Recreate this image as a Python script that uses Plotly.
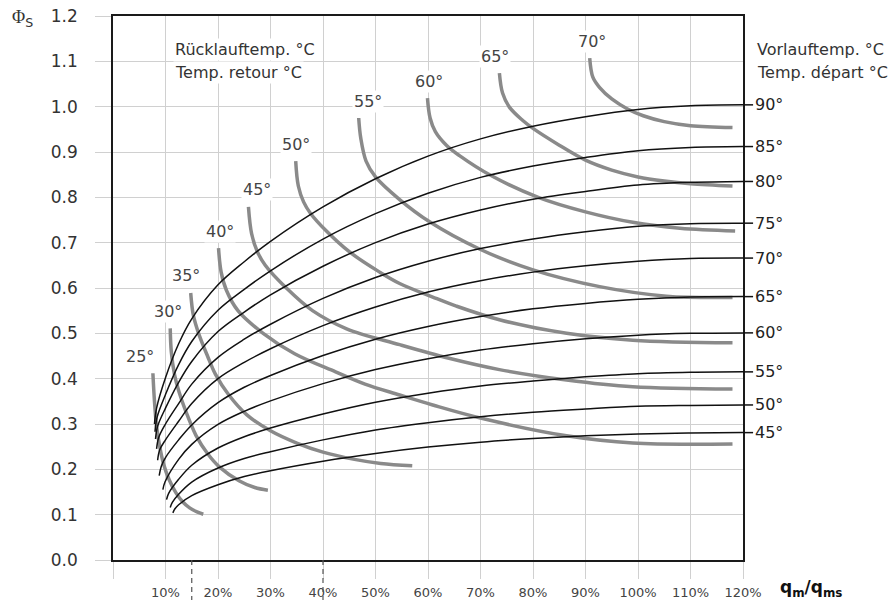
import plotly.graph_objects as go

# x = q_m/q_ms in %, y = Phi_s

# Vorlauftemperatur (black curves)
VL90_X = [7.9, 8.3, 10, 12.5, 15, 20, 25, 30, 40, 50, 60, 70, 80, 90, 100, 110, 120]
VL90_PHI = [0.30, 0.335, 0.402, 0.477, 0.532, 0.607, 0.658, 0.703, 0.779, 0.841, 0.891, 0.929, 0.957, 0.978, 0.994, 1.002, 1.004]
VL85_X = [8.0, 8.4, 10, 12.5, 15, 20, 25, 30, 40, 50, 60, 70, 80, 90, 100, 110, 120]
VL85_PHI = [0.283, 0.315, 0.365, 0.431, 0.482, 0.551, 0.597, 0.638, 0.708, 0.764, 0.809, 0.844, 0.869, 0.888, 0.903, 0.910, 0.912]
VL80_X = [8.1, 8.5, 10, 12.5, 15, 20, 25, 30, 40, 50, 60, 70, 80, 90, 100, 110, 120]
VL80_PHI = [0.267, 0.295, 0.335, 0.392, 0.438, 0.504, 0.547, 0.585, 0.648, 0.700, 0.741, 0.772, 0.796, 0.813, 0.827, 0.833, 0.835]
VL75_X = [8.3, 8.7, 10, 12.5, 15, 20, 25, 30, 40, 50, 60, 70, 80, 90, 100, 110, 120]
VL75_PHI = [0.245, 0.27, 0.30, 0.345, 0.388, 0.447, 0.487, 0.52, 0.577, 0.623, 0.659, 0.687, 0.708, 0.724, 0.736, 0.742, 0.743]
VL70_X = [8.5, 8.9, 10, 12.5, 15, 20, 25, 30, 40, 50, 60, 70, 80, 90, 100, 110, 120]
VL70_PHI = [0.22, 0.243, 0.265, 0.306, 0.345, 0.40, 0.436, 0.466, 0.517, 0.558, 0.591, 0.616, 0.635, 0.649, 0.659, 0.665, 0.666]
VL65_X = [8.8, 9.2, 10, 12.5, 15, 20, 25, 30, 40, 50, 60, 70, 80, 90, 100, 110, 120]
VL65_PHI = [0.186, 0.207, 0.226, 0.265, 0.298, 0.347, 0.381, 0.407, 0.451, 0.487, 0.515, 0.537, 0.554, 0.566, 0.575, 0.580, 0.581]
VL60_X = [9.5, 9.9, 12.5, 15, 20, 25, 30, 40, 50, 60, 70, 80, 90, 100, 110, 120]
VL60_PHI = [0.155, 0.172, 0.222, 0.255, 0.299, 0.328, 0.351, 0.389, 0.420, 0.444, 0.463, 0.477, 0.488, 0.496, 0.500, 0.501]
VL55_X = [10.2, 10.6, 12.5, 15, 20, 25, 30, 40, 50, 60, 70, 80, 90, 100, 110, 120]
VL55_PHI = [0.133, 0.147, 0.178, 0.209, 0.247, 0.272, 0.291, 0.322, 0.348, 0.368, 0.384, 0.395, 0.404, 0.411, 0.414, 0.415]
VL50_X = [10.9, 11.3, 12.5, 15, 20, 25, 30, 40, 50, 60, 70, 80, 90, 100, 110, 120]
VL50_PHI = [0.116, 0.127, 0.145, 0.172, 0.203, 0.224, 0.239, 0.265, 0.287, 0.303, 0.316, 0.326, 0.333, 0.339, 0.341, 0.342]
VL45_X = [11.4, 11.8, 12.5, 15, 20, 25, 30, 40, 50, 60, 70, 80, 90, 100, 110, 120]
VL45_PHI = [0.104, 0.113, 0.122, 0.142, 0.166, 0.184, 0.197, 0.218, 0.235, 0.249, 0.26, 0.268, 0.274, 0.278, 0.280, 0.281]

# Ruecklauftemperatur (grey curves)
RL25_X = [7.6, 7.9, 8.3, 8.9, 9.6, 10.7, 12.0, 13.3, 14.6, 16.0, 17.2]
RL25_PHI = [0.412, 0.35, 0.295, 0.25, 0.213, 0.177, 0.148, 0.128, 0.115, 0.106, 0.101]
RL30_X = [10.9, 11.1, 11.7, 12.6, 13.8, 15.8, 18.0, 20.3, 24.0, 27.0, 29.5]
RL30_PHI = [0.511, 0.46, 0.41, 0.37, 0.33, 0.275, 0.235, 0.205, 0.175, 0.16, 0.154]
RL35_X = [14.8, 15.3, 16.3, 18.0, 19.5, 22.0, 25.5, 30.0, 35.0, 40.0, 46.0, 51.0, 57.0]
RL35_PHI = [0.589, 0.54, 0.50, 0.45, 0.41, 0.365, 0.32, 0.285, 0.258, 0.238, 0.222, 0.213, 0.208]
RL40_X = [20.1, 20.6, 21.6, 23.8, 28.6, 34.6, 42.4, 48.0, 54.6, 60.9, 70.4, 86.4, 99.0, 118.0]
RL40_PHI = [0.688, 0.635, 0.595, 0.55, 0.50, 0.455, 0.415, 0.388, 0.364, 0.342, 0.312, 0.274, 0.258, 0.256]
RL45_X = [25.8, 26.4, 27.5, 29.0, 33.0, 38.0, 44.5, 54.6, 64.0, 73.6, 86.4, 99.0, 118.0]
RL45_PHI = [0.779, 0.72, 0.68, 0.65, 0.60, 0.55, 0.51, 0.475, 0.445, 0.42, 0.397, 0.382, 0.377]
RL50_X = [34.8, 35.3, 36.3, 37.6, 40.7, 45.0, 50.8, 54.6, 60.9, 65.4, 73.6, 86.4, 99.0, 118.0]
RL50_PHI = [0.88, 0.825, 0.79, 0.765, 0.725, 0.68, 0.635, 0.61, 0.58, 0.56, 0.53, 0.50, 0.485, 0.479]
RL55_X = [46.8, 47.2, 48.2, 50.0, 54.6, 60.3, 69.8, 80.0, 92.7, 105.4, 118.0]
RL55_PHI = [0.975, 0.93, 0.88, 0.845, 0.795, 0.746, 0.686, 0.64, 0.603, 0.582, 0.579]
RL60_X = [59.9, 60.4, 61.4, 63.5, 66.0, 72.0, 81.0, 90.0, 99.0, 108.0, 118.5]
RL60_PHI = [1.019, 0.975, 0.945, 0.915, 0.892, 0.848, 0.80, 0.768, 0.745, 0.732, 0.726]
RL65_X = [73.6, 74.2, 75.5, 78.0, 80.0, 85.0, 90.0, 95.0, 100.0, 105.0, 110.0, 118.0]
RL65_PHI = [1.074, 1.03, 0.999, 0.97, 0.952, 0.915, 0.882, 0.86, 0.845, 0.836, 0.83, 0.825]
RL70_X = [90.8, 91.4, 92.7, 95.0, 98.0, 101.0, 105.0, 110.0, 118.0]
RL70_PHI = [1.107, 1.065, 1.042, 1.017, 0.995, 0.98, 0.967, 0.958, 0.954]

X_TICKS = [0, 10, 20, 30, 40, 50, 60, 70, 80, 90, 100, 110, 120]
X_TICK_LABELS = ["", "10%", "20%", "30%", "40%", "50%", "60%", "70%", "80%", "90%", "100%", "110%", "120%"]
Y_TICKS = [0.0, 0.1, 0.2, 0.3, 0.4, 0.5, 0.6, 0.7, 0.8, 0.9, 1.0, 1.1, 1.2]
Y_TICK_LABELS = ["0.0", "0.1", "0.2", "0.3", "0.4", "0.5", "0.6", "0.7", "0.8", "0.9", "1.0", "1.1", "1.2"]
DASHED_X = [15, 40]

supply = [
    ("90°", VL90_X, VL90_PHI), ("85°", VL85_X, VL85_PHI), ("80°", VL80_X, VL80_PHI),
    ("75°", VL75_X, VL75_PHI), ("70°", VL70_X, VL70_PHI), ("65°", VL65_X, VL65_PHI),
    ("60°", VL60_X, VL60_PHI), ("55°", VL55_X, VL55_PHI), ("50°", VL50_X, VL50_PHI),
    ("45°", VL45_X, VL45_PHI),
]
# label, x, y, label offset in px
ret = [
    ("25°", RL25_X, RL25_PHI, -13), ("30°", RL30_X, RL30_PHI, -2), ("35°", RL35_X, RL35_PHI, -5),
    ("40°", RL40_X, RL40_PHI, 1), ("45°", RL45_X, RL45_PHI, 9), ("50°", RL50_X, RL50_PHI, 0),
    ("55°", RL55_X, RL55_PHI, 9), ("60°", RL60_X, RL60_PHI, 2), ("65°", RL65_X, RL65_PHI, -4),
    ("70°", RL70_X, RL70_PHI, 2),
]

FONT = "DejaVu Sans"
fig = go.Figure()

for name, xs, ys, dx in ret:
    fig.add_trace(go.Scatter(x=xs, y=ys, mode="lines", name=name, hoverinfo="skip",
                             line=dict(color="#8a8a8a", width=3.5, shape="spline", smoothing=1)))
    fig.add_annotation(x=xs[0], y=ys[0], text=name, showarrow=False, xshift=dx, yshift=17,
                       bgcolor="white", borderpad=1,
                       font=dict(family=FONT, size=16, color="#444"))

for name, xs, ys in supply:
    fig.add_trace(go.Scatter(x=xs, y=ys, mode="lines", name=name, hoverinfo="skip",
                             line=dict(color="#111111", width=1.5, shape="spline", smoothing=1)))
    fig.add_shape(type="line", xref="paper", yref="y", x0=1, x1=1.016, y0=ys[-1], y1=ys[-1],
                  line=dict(color="#111111", width=1.5))
    fig.add_annotation(xref="paper", x=1, y=ys[-1], text=name, showarrow=False,
                       xanchor="left", yanchor="middle", xshift=10,
                       font=dict(family=FONT, size=16, color="#222"))

for xv in DASHED_X:
    fig.add_shape(type="line", xref="x", yref="paper", x0=xv, x1=xv, y0=0, y1=-0.075,
                  line=dict(color="#555", width=1.2, dash="5px,4px"))

txt = dict(family=FONT, size=16, color="#333")
fig.add_annotation(xref="paper", yref="paper", x=0.095, y=0.939, xanchor="left", yanchor="middle",
                   text="Rücklauftemp. °C", showarrow=False, bgcolor="white", font=txt)
fig.add_annotation(xref="paper", yref="paper", x=0.095, y=0.897, xanchor="left", yanchor="middle",
                   text="Temp. retour °C", showarrow=False, bgcolor="white", font=txt)
fig.add_annotation(xref="paper", yref="paper", x=1.019, y=0.939, xanchor="left", yanchor="middle",
                   text="Vorlauftemp. °C", showarrow=False, font=txt)
fig.add_annotation(xref="paper", yref="paper", x=1.019, y=0.897, xanchor="left", yanchor="middle",
                   text="Temp. départ °C", showarrow=False, font=txt)
fig.add_annotation(xref="paper", yref="paper", x=-0.163, y=0.996, xanchor="left", yanchor="middle",
                   text='<span style="font-family:Liberation Serif">Φ</span><sub>S</sub>',
                   showarrow=False, font=dict(family=FONT, size=18, color="#333"))
fig.add_annotation(xref="paper", yref="paper", x=1.056, y=-0.052, xanchor="left", yanchor="middle",
                   text="<b>q<sub>m</sub>/q<sub>ms</sub></b>", showarrow=False,
                   font=dict(family=FONT, size=17, color="#111"))

fig.update_xaxes(range=[0, 120], tickmode="array", tickvals=X_TICKS, ticktext=X_TICK_LABELS,
                 showgrid=True, gridcolor="#d0d0d0", gridwidth=1, zeroline=False, automargin=False,
                 ticks="outside", ticklen=17, tickcolor="#d0d0d0", tickwidth=1,
                 showline=True, linecolor="#1a1a1a", linewidth=1.5, mirror=True,
                 ticklabeloverflow="allow",
                 tickfont=dict(family=FONT, size=13, color="#444"), ticklabelstandoff=3)
fig.update_yaxes(range=[0, 1.2], tickmode="array", tickvals=Y_TICKS, ticktext=Y_TICK_LABELS,
                 showgrid=True, gridcolor="#d0d0d0", gridwidth=1, zeroline=False, automargin=False,
                 ticks="outside", ticklen=16, tickcolor="#d0d0d0", tickwidth=1,
                 showline=True, linecolor="#1a1a1a", linewidth=1.5, mirror=True,
                 ticklabeloverflow="allow",
                 tickfont=dict(family=FONT, size=17, color="#333"), ticklabelstandoff=14)
fig.update_layout(width=891, height=600, margin=dict(l=113, r=148, t=16, b=40),
                  paper_bgcolor="white", plot_bgcolor="white", showlegend=False)

# drop the default 8px body margin so the figure sits at the page corner
fig.write_html("out.html", config={"displayModeBar": False},
               post_script="document.body.style.margin='0px';")
